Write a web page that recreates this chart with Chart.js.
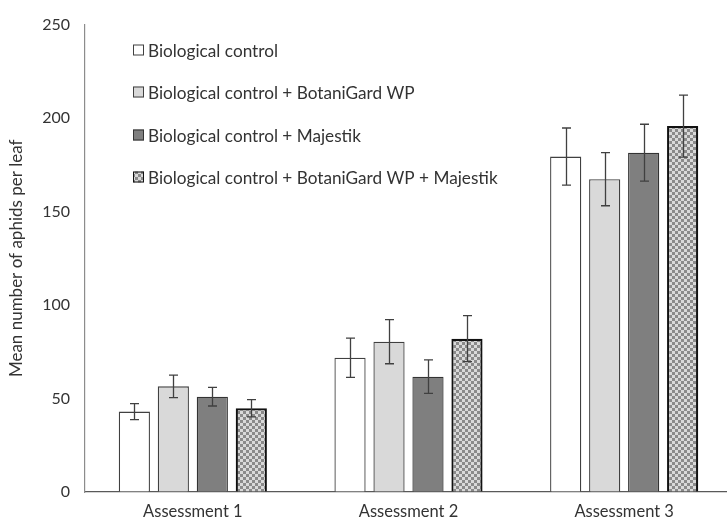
<!DOCTYPE html>
<html>
<head>
<meta charset="utf-8">
<script src="https://cdn.jsdelivr.net/npm/chart.js@4.4.1/dist/chart.umd.min.js"></script>
<style>
  html, body { margin: 0; padding: 0; background: #fff; overflow: hidden; }
  #wrap { width: 727px; height: 524px; overflow: hidden; }
</style>
</head>
<body>
<div id="wrap"><canvas id="c" width="732" height="524"></canvas></div>
<script>
// Assessment dates on the x axis
const categories = ['Assessment 1', 'Assessment 2', 'Assessment 3'];

// Treatment names
const seriesLabels = [
  'Biological control',
  'Biological control + BotaniGard WP',
  'Biological control + Majestik',
  'Biological control + BotaniGard WP + Majestik'
];

// Mean aphids per leaf
const bioControl     = [43.0, 71.8, 179.4];
const bioBotaniGard  = [56.5, 80.4, 167.3];
const bioMajestik    = [51.0, 61.7, 181.5];
const bioBothProducts = [44.8, 82.0, 195.7];

// Standard errors
const errBioControl      = [4.3, 10.5, 15.3];
const errBioBotaniGard   = [6.0, 11.8, 14.2];
const errBioMajestik     = [5.0, 9.0, 15.2];
const errBioBothProducts = [4.6, 12.3, 16.6];

// Y axis range
const yMin = 0, yMax = 250, yStep = 50;

const FONT = 'Lato, "Open Sans", sans-serif';
const TEXT = '#333333';

// Small grey checkerboard fill
function checker() {
  const p = document.createElement('canvas');
  p.width = 6; p.height = 6;
  const g = p.getContext('2d');
  g.fillStyle = '#d9d9d9'; g.fillRect(0, 0, 6, 6);
  g.fillStyle = '#8a8a8a';
  g.fillRect(0, 0, 3, 3); g.fillRect(3, 3, 3, 3);
  return document.getElementById('c').getContext('2d').createPattern(p, 'repeat');
}
const checkerFill = checker();

const datasets = [
  { label: seriesLabels[0], data: bioControl, errors: errBioControl,
    backgroundColor: '#ffffff', borderColor: '#404040', borderWidth: 1.3 },
  { label: seriesLabels[1], data: bioBotaniGard, errors: errBioBotaniGard,
    backgroundColor: '#d9d9d9', borderColor: '#404040', borderWidth: 1.3 },
  { label: seriesLabels[2], data: bioMajestik, errors: errBioMajestik,
    backgroundColor: '#7f7f7f', borderColor: '#333333', borderWidth: 1.3 },
  { label: seriesLabels[3], data: bioBothProducts, errors: errBioBothProducts,
    backgroundColor: checkerFill, borderColor: '#111111', borderWidth: 2.2 }
];

// Error bars drawn from each bar's value and its standard error
const errorBars = {
  id: 'errorBars',
  afterDatasetsDraw(chart) {
    const ctx = chart.ctx;
    const y = chart.scales.y;
    ctx.save();
    ctx.strokeStyle = '#404040';
    ctx.lineWidth = 1.3;
    chart.data.datasets.forEach((ds, i) => {
      const meta = chart.getDatasetMeta(i);
      meta.data.forEach((bar, j) => {
        const v = ds.data[j], e = ds.errors[j];
        const top = y.getPixelForValue(v + e);
        const bot = y.getPixelForValue(v - e);
        const x = Math.round(bar.x) + 0.5;
        ctx.beginPath();
        ctx.moveTo(x, top); ctx.lineTo(x, bot);
        ctx.moveTo(x - 4.5, top); ctx.lineTo(x + 4.5, top);
        ctx.moveTo(x - 4.5, bot); ctx.lineTo(x + 4.5, bot);
        ctx.stroke();
      });
    });
    ctx.restore();
  }
};

// Key stacked in a column inside the plot area
const insetLegend = {
  id: 'insetLegend',
  afterDraw(chart) {
    const ctx = chart.ctx;
    const a = chart.chartArea;
    const x0 = a.left + 48;
    const y0 = a.top + 25;
    const gap = 42.5;
    ctx.save();
    ctx.font = '17.2px ' + FONT;
    ctx.textBaseline = 'middle';
    ctx.textAlign = 'left';
    chart.data.datasets.forEach((ds, i) => {
      const cy = Math.round(y0 + i * gap);
      ctx.fillStyle = ds.backgroundColor;
      ctx.fillRect(x0, cy - 5.5, 11, 11);
      ctx.strokeStyle = ds.borderColor;
      ctx.lineWidth = 1;
      ctx.strokeRect(x0 + 0.5, cy - 5, 10, 10);
      ctx.fillStyle = TEXT;
      ctx.fillText(ds.label, x0 + 15, cy + 1);
    });
    ctx.restore();
  }
};

new Chart(document.getElementById('c'), {
  type: 'bar',
  data: { labels: categories, datasets },
  plugins: [errorBars, insetLegend],
  options: {
    responsive: false,
    animation: false,
    events: [],
    categoryPercentage: 0.723,
    barPercentage: 0.8,
    layout: { padding: { top: 23, right: 0, left: 0, bottom: 0 } },
    plugins: { legend: { display: false }, tooltip: { enabled: false } },
    scales: {
      x: {
        grid: { color: 'rgba(0,0,0,0)', drawTicks: false },
        border: { display: true, color: '#595959', width: 1.2 },
        ticks: { color: TEXT, font: { family: FONT, size: 16.5 }, padding: 10 },
        afterFit(s) { s.height = 32; }
      },
      y: {
        min: yMin, max: yMax,
        grid: { color: 'rgba(0,0,0,0)', drawTicks: false },
        border: { display: true, color: '#8c8c8c', width: 1.2 },
        ticks: { stepSize: yStep, color: TEXT, font: { family: FONT, size: 16 }, padding: 15 },
        title: {
          display: true, text: 'Mean number of aphids per leaf',
          color: TEXT, font: { family: FONT, size: 17 }, padding: { top: 6, bottom: 0 }
        },
        afterFit(s) { s.width = 85; }
      }
    }
  }
});
</script>
</body>
</html>
